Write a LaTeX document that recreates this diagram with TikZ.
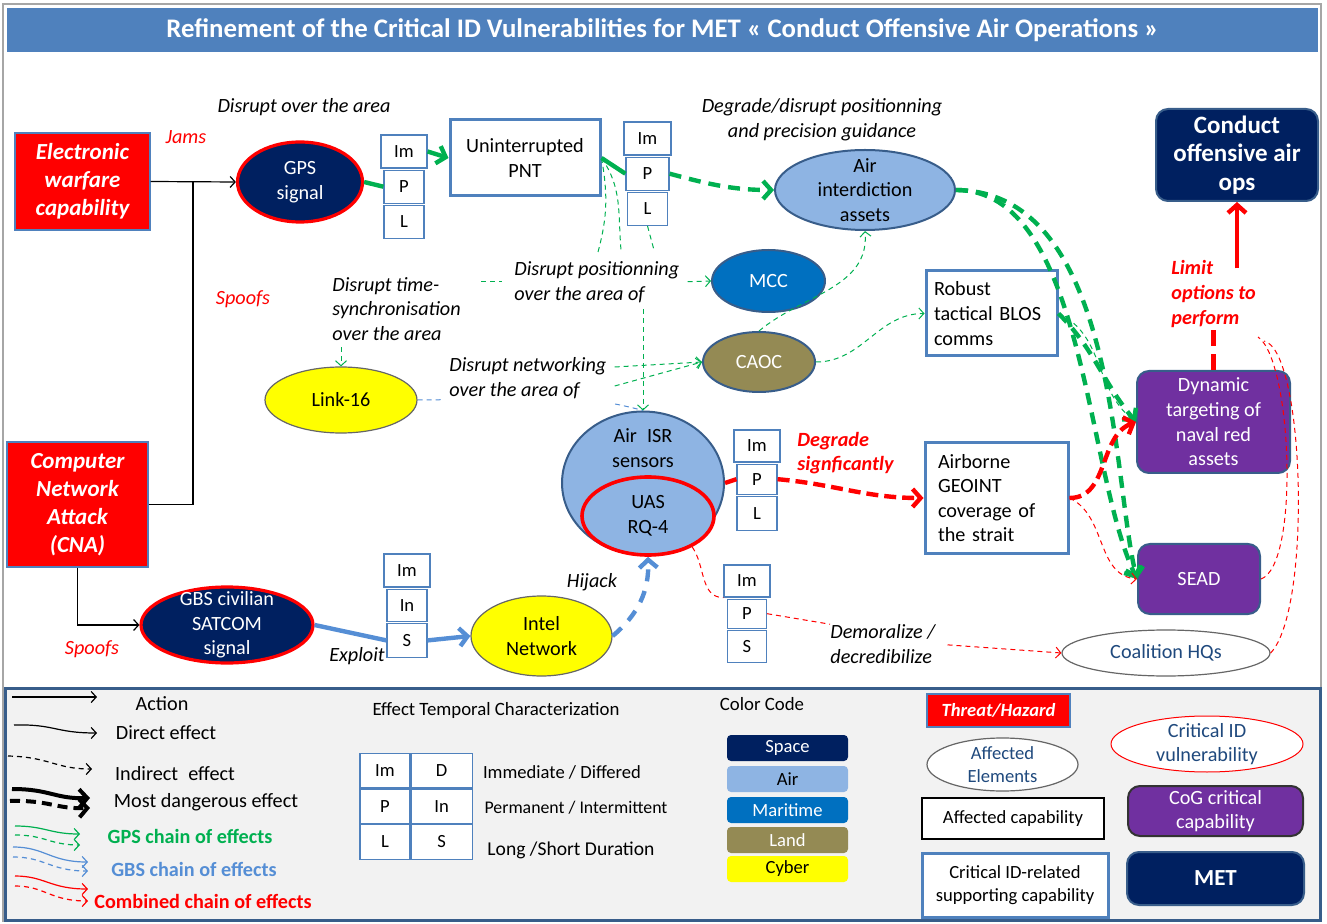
\documentclass[tikz,border=0pt]{standalone}
\usepackage{fontspec}
\setmainfont{Carlito}
\usetikzlibrary{shapes.geometric, arrows.meta, positioning}

\definecolor{navy}{HTML}{002060}
\definecolor{airblue}{HTML}{8EB4E3}
\definecolor{maritime}{HTML}{0070C0}
\definecolor{land}{HTML}{948A54}
\definecolor{cogpurple}{HTML}{7030A0}
\definecolor{boxblue}{HTML}{4F81BD}
\definecolor{edgeblue}{HTML}{385D8A}
\definecolor{gpsgreen}{HTML}{00B050}
\definecolor{gbsblue}{HTML}{558ED5}
\definecolor{threatred}{HTML}{FF0000}
\definecolor{legendbg}{HTML}{F2F2F2}
\definecolor{hqtext}{HTML}{1F497D}
\definecolor{cyber}{HTML}{FFFF00}

\tikzset{
	base/.style={font=\fontsize{10.1}{12.3}\selectfont, align=center, inner sep=0pt},
	lgsmall/.style={font=\fontsize{9.3}{11.5}\selectfont},
	threat/.style={base, rectangle, fill=threatred, draw=boxblue, line width=0.6pt,
		text=white, font=\fontsize{11.5}{14}\selectfont\bfseries\itshape},
	vuln/.style={base, ellipse, fill=navy, draw=red, line width=1.6pt, text=white},
	element/.style={base, ellipse, draw=edgeblue, line width=1pt},
	supcap/.style={base, rectangle, draw=boxblue, line width=1.5pt, fill=white},
	cogcap/.style={base, rectangle, rounded corners=6pt, fill=cogpurple,
		draw=edgeblue, line width=1pt, text=white},
	met/.style={base, rectangle, rounded corners=6pt, fill=navy, draw=edgeblue,
		line width=1pt, text=white, font=\fontsize{12.5}{14.2}\selectfont\bfseries},
	tcell/.style={base, lgsmall, rectangle, draw=boxblue, fill=white, line width=0.6pt},
	tbox/.style={tcell, minimum width=20pt, minimum height=16.5pt},
	lbl/.style={base, font=\fontsize{10.1}{12.3}\selectfont\itshape},
	redlbl/.style={lbl, text=red},
	alertlbl/.style={base, text=red, font=\fontsize{10.1}{12.3}\selectfont\bfseries\itshape},
	swatch/.style={base, lgsmall, rounded corners=2pt, minimum width=60.5pt, minimum height=13pt},
	arr/.style={-{Straight Barb[length=2.5pt,width=5.5pt]}},
	bigarr/.style={-{Straight Barb[length=4pt,width=9pt]}},
	actionline/.style={black, line width=0.6pt, arr},
	gpsthick/.style={gpsgreen, line width=2.2pt},
	gpsdash/.style={gpsthick, dash pattern=on 6pt off 4pt},
	gpsthin/.style={gpsgreen, line width=0.5pt, dash pattern=on 2.5pt off 2pt},
	gbsthick/.style={gbsblue, line width=2.2pt},
	gbsdash/.style={gbsthick, dash pattern=on 6pt off 5pt},
	gbsthin/.style={gbsblue, line width=0.5pt, dash pattern=on 2.5pt off 2pt},
	redthick/.style={red, line width=2.2pt},
	reddash/.style={redthick, dash pattern=on 6pt off 3pt},
	redthin/.style={red, line width=0.5pt, dash pattern=on 2.5pt off 2pt}
}

\begin{document}
\begin{tikzpicture}[x=0.5pt, y=-0.5pt]
	\useasboundingbox (0,0) rectangle (1327,924);

	% frame, title and legend panel
	\draw[gray!70, line width=1pt] (3,4) rectangle (1321,921);
	\node[base, fill=boxblue, text=white, minimum width=655.5pt, minimum height=22pt,
		font=\fontsize{13.4}{15}\selectfont\bfseries] (title) at (662.5,30)
		{Refinement of the Critical ID Vulnerabilities for MET « Conduct Offensive Air Operations »};
	\draw[fill=legendbg, draw=edgeblue, line width=1.5pt] (5,688) rectangle (1320,920);

	% threats and critical vulnerabilities
	\node[threat, minimum width=67.5pt, minimum height=48.5pt] (ew) at (82.5,181.5)
		{Electronic\\warfare\\capability};
	\node[threat, minimum width=70.5pt, minimum height=62.5pt] (cna) at (77.5,504.5)
		{Computer\\Network\\Attack\\(CNA)};
	\node[vuln, minimum width=62.5pt, minimum height=40pt] (gps) at (300,182) {GPS\\signal};
	\node[vuln, minimum width=86pt, minimum height=38pt, inner ysep=-4.5pt] (gbs) at (227,625)
		{GBS civilian\\SATCOM\\signal};

	% temporal boxes
	\node[tbox, minimum width=23pt] (gpsIm) at (404,151.5) {Im};
	\node[tbox, below=0.5pt of gpsIm] (gpsP) {P};
	\node[tbox, below=0.5pt of gpsP] (gpsL) {L};
	\node[tbox, minimum width=23.5pt] (pntIm) at (647.5,138.5) {Im};
	\node[tbox, minimum width=21.5pt, below=0.5pt of pntIm] (pntP) {P};
	\node[tbox, below=0.5pt of pntP] (pntL) {L};
	\node[tbox, minimum width=23pt, minimum height=16pt] (isrIm) at (757,446) {Im};
	\node[tbox, minimum height=15pt, below=0.5pt of isrIm] (isrP) {P};
	\node[tbox, minimum height=17pt, below=0.5pt of isrP] (isrL) {L};
	\node[tbox, minimum width=23pt, minimum height=16pt] (hqIm) at (747,581) {Im};
	\node[tbox, minimum width=19.5pt, minimum height=14.5pt, below=0.5pt of hqIm] (hqP) {P};
	\node[tbox, minimum width=19.5pt, minimum height=16pt, below=0.5pt of hqP] (hqS) {S};
	\node[tbox, minimum width=23pt] (gbsIm) at (407,570.5) {Im};
	\node[tbox, minimum height=16pt, below=0.5pt of gbsIm] (gbsIn) {In};
	\node[tbox, minimum height=17pt, below=0.5pt of gbsIn] (gbsS) {S};

	% affected elements and capabilities
	\node[supcap, minimum width=75pt, minimum height=38pt] (pnt) at (525,158) {Uninterrupted\\PNT};
	\node[element, fill=airblue, minimum width=90pt, minimum height=40pt, inner ysep=-4.5pt]
		(airint) at (865,190) {Air\\interdiction\\assets};
	\node[element, fill=maritime, text=white, minimum width=56.5pt, minimum height=31pt]
		(mcc) at (768.5,281) {MCC};
	\node[element, fill=land, text=white, minimum width=56pt, minimum height=30pt]
		(caoc) at (759,362) {CAOC};
	\node[supcap, align=left, text width=57.5pt, minimum width=65.5pt, minimum height=42.5pt]
		(robust) at (991.5,313.5) {Robust\\tactical BLOS\\comms};
	\node[element, fill=cyber, draw=black!60, line width=0.6pt, minimum width=76pt, minimum height=33pt]
		(link) at (341,400) {Link-16};
	\node[element, fill=airblue, minimum width=81pt, minimum height=71.5pt] (isr) at (643,483) {};
	\node[base] (isrtxt) at (643,448) {Air\hspace{0.5em}ISR\\sensors};
	\node[element, fill=airblue, draw=red, line width=1.8pt, minimum width=66pt, minimum height=39pt]
		(uas) at (648,516) {UAS\\RQ-4};
	\node[supcap, align=left, text width=58.5pt, minimum width=71.5pt, minimum height=55pt]
		(geoint) at (996.5,498) {Airborne\\GEOINT\\coverage of\\the strait};
	\node[cogcap, minimum width=76.5pt, minimum height=51pt] (dyn) at (1213.5,422)
		{Dynamic\\targeting of\\naval red\\assets};
	\node[cogcap, minimum width=61pt, minimum height=35pt] (sead) at (1199,579) {SEAD};
	\node[met, minimum width=81pt, minimum height=46pt] (cond) at (1237,155)
		{Conduct\\offensive air\\ops};
	\node[base, ellipse, draw=black!60, line width=0.6pt, fill=white, text=hqtext,
		minimum width=104pt, minimum height=23pt] (coal) at (1166,653) {Coalition HQs};
	\node[element, fill=cyber, draw=black!60, line width=0.6pt, minimum width=70.5pt, minimum height=40pt]
		(intel) at (541.5,636) {Intel\\Network};

	% effect labels
	\node[lbl] (overlbl) at (304,107) {Disrupt over the area};
	\node[redlbl] (jams) at (186,137) {Jams};
	\node[redlbl] (spoofew) at (243,299) {Spoofs};
	\node[lbl] (guidlbl) at (822,120) {Degrade/disrupt positionning\\and precision guidance};
	\node[lbl, anchor=west, align=left] (tsync) at (332,309) {Disrupt time-\\synchronisation\\over the area};
	\node[lbl, anchor=west, align=left] (dpos) at (514,282) {Disrupt positionning\\over the area of};
	\node[alertlbl, anchor=west, align=left] (sigdeg) at (797,453) {Degrade\\signficantly};
	\node[alertlbl, anchor=west, align=left] (limit) at (1171,294) {Limit\\options to\\perform};
	\node[lbl, anchor=west, align=left] (demlbl) at (830,644) {Demoralize /\\decredibilize};
	\node[lbl] (hijack) at (592,582) {Hijack};
	\node[lbl] (exploit) at (357,656) {Exploit};
	\node[redlbl] (spoofcna) at (92,649) {Spoofs};

	% Link-16 effect runs behind the networking label
	\draw[gbsthin] (link.east) to[out=0,in=165] (isr.north);
	\node[lbl, anchor=west, align=left, fill=white, inner sep=4pt] (dnet) at (441,378)
		{Disrupt networking\\over the area of};

	% actions
	\coordinate (jn) at (193,182);
	\draw[actionline] (ew.east) -- (gps.west);
	\draw[black, line width=0.6pt] (cna.east) -| (jn);
	\draw[actionline] (cna.south) |- (gbs.west);

	% GPS chain
	\draw[gpsthick] (gps.east) -- (gpsP.west);
	\draw[gpsthick, bigarr] (gpsIm.east) -- (pnt.west);
	\draw[gpsthick] (pnt.east) -- (pntP.west);
	\draw[gpsdash, bigarr] (pntP.east) to[out=-15,in=180] (airint.west);
	\coordinate (fanA) at (598,252);
	\coordinate (fanB) at (621,250);
	\coordinate (fanC) at (654,250);
	\draw[gpsthin] (pnt.east) to[out=-80,in=75] (fanA);
	\draw[gpsthin] (pnt.east) to[out=-55,in=95] (fanB);
	\draw[gpsthin] (pntL.south) -- (fanC);
	\draw[gpsthin, shorten <=10pt, shorten >=6pt] (tsync.east |- dpos.west) -- (dpos.west);
	\draw[gpsthin, arr, shorten <=3pt] (tsync.south -| link.north) -- (link.north);
	\draw[gpsthin, arr, shorten <=4pt] (dpos.east) -- (mcc.west);
	\draw[gpsthin, arr, shorten <=3pt] (dpos.south -| isr.north) -- (isr.north);
	\draw[gpsthin, arr] ([yshift=5.5pt]dnet.east) -- (caoc.west);
	\draw[gpsthin, arr] ([yshift=-4pt]dnet.east) -- (caoc.west);
	\draw[gpsthin, arr] (caoc.north) to[out=40,in=-85] (airint.south);
	\draw[gpsthin, arr] (caoc.east) to[out=0,in=180] (robust.west);
	\draw[gpsdash, bigarr] (airint.east) .. controls (1085,190) and (1085,470) .. (sead.west);
	\draw[gpsdash, bigarr] (airint.east) .. controls (1118,192) and (1112,480) .. (sead.west);
	\draw[gpsthin] (robust.east) to[out=-25,in=145] (dyn.west);
	\draw[gpsdash, bigarr] (robust.east) to[out=-45,in=130] (dyn.west);

	% GBS chain
	\draw[gbsthick] (gbs.east) -- (gbsS.west);
	\draw[gbsthick, bigarr] (gbsS.east) -- (intel.west);
	\draw[gbsdash, bigarr] (intel.east) to[out=40,in=-88] (uas.south);

	% combined chain
	\draw[redthick] (isr.east) -- (isrP.west);
	\draw[reddash, bigarr] (isrP.east) to[out=-5,in=180] (geoint.west);
	\draw[reddash, bigarr] (geoint.east) to[out=0,in=200] (dyn.west);
	\draw[redthin, arr] (geoint.east) to[out=-25,in=175] (sead.west);
	\draw[redthin] (uas.-35) to[out=-55,in=180] (hqIm.south west);
	\draw[redthin] (hqP.east) -- (demlbl.north west);
	\draw[redthin, arr, shorten <=6pt] (demlbl.east) -- (coal.west);
	\coordinate (limA) at (1258,337);
	\coordinate (limB) at (1264,341);
	\draw[redthin] (sead.east) .. controls (1300,565) and (1292,360) .. (limA);
	\draw[redthin] (coal.east) .. controls (1312,610) and (1305,350) .. (limB);
	\draw[redthick, dash pattern=on 8pt off 4pt] (dyn.north) -- (limit.south -| dyn.north);
	\draw[redthick, bigarr, shorten <=-4pt] (limit.north -| cond.south) -- (cond.south);

	% legend: connector types
	\draw[actionline] (12,697) -- (97,697);
	\node[base] (lgact) at (162,704) {Action};
	\draw[black, line width=0.6pt, arr] (14,725) .. controls (55,724) and (55,733) .. (97,733);
	\node[base] (lgdir) at (166,733) {Direct effect};
	\draw[black, line width=0.6pt, dash pattern=on 2.5pt off 2pt, arr]
		(8,756) .. controls (50,757) and (55,769) .. (92,769);
	\node[base] (lgind) at (175,774) {Indirect\hspace{0.5em}effect};
	\draw[black, line width=2pt, bigarr] (12,789) .. controls (50,789) and (55,799) .. (90,798);
	\draw[black, line width=2pt, dash pattern=on 5pt off 3pt, bigarr]
		(10,801) .. controls (50,800) and (55,809) .. (90,808);
	\node[base] (lgdng) at (206,802) {Most dangerous effect};
	\draw[gpsgreen, line width=0.6pt, arr] (15,826) .. controls (45,826) and (50,834) .. (80,834);
	\draw[gpsgreen, line width=0.6pt, dash pattern=on 2.5pt off 2pt, arr]
		(15,835) .. controls (45,835) and (50,845) .. (80,845);
	\node[base, text=gpsgreen, font=\fontsize{10.1}{12}\selectfont\bfseries] (lggps) at (190,836)
		{GPS chain of effects};
	\draw[gbsblue, line width=0.6pt, arr] (13,847) .. controls (45,847) and (50,862) .. (88,862);
	\draw[gbsblue, line width=0.6pt, dash pattern=on 2.5pt off 2pt, arr]
		(13,857) .. controls (45,857) and (50,871) .. (88,871);
	\node[base, text=gbsblue, font=\fontsize{10.1}{12}\selectfont\bfseries] (lggbs) at (194,869)
		{GBS chain of effects};
	\draw[red, line width=0.6pt, arr] (15,876) .. controls (45,876) and (50,889) .. (88,889);
	\draw[red, line width=0.6pt, dash pattern=on 2.5pt off 2pt, arr]
		(15,886) .. controls (45,886) and (50,901) .. (88,901);
	\node[base, text=red, font=\fontsize{10.1}{12}\selectfont\bfseries] (lgcmb) at (203,901)
		{Combined chain of effects};

	% legend: temporal characterization
	\node[base, font=\fontsize{9.4}{11}\selectfont] (lgtemp) at (496,710) {Effect Temporal Characterization};
	\node[tcell, minimum width=25pt, minimum height=17.25pt] (tIm) at (385,770.5) {Im};
	\node[tcell, minimum width=30.5pt, minimum height=17.25pt, right=0pt of tIm] (tD) {D};
	\node[tcell, minimum width=25pt, minimum height=17.25pt, below=0pt of tIm] (tP) {P};
	\node[tcell, minimum width=30.5pt, minimum height=17.25pt, right=0pt of tP] (tIn) {In};
	\node[tcell, minimum width=25pt, minimum height=17.25pt, below=0pt of tP] (tL) {L};
	\node[tcell, minimum width=30.5pt, minimum height=17.25pt, right=0pt of tL] (tS) {S};
	\node[base, lgsmall] (lgimm) at (562,772) {Immediate / Differed};
	\node[base, font=\fontsize{8.9}{11}\selectfont] (lgper) at (576,808) {Permanent / Intermittent};
	\node[base, font=\fontsize{9.8}{11}\selectfont] (lglong) at (571,850) {Long /Short Duration};

	% legend: color code
	\node[base, font=\fontsize{9.4}{11}\selectfont] (lgcol) at (762,704) {Color Code};
	\node[swatch, fill=navy, text=white] (swspace) at (787.5,748) {Space};
	\node[swatch, fill=airblue] (swair) at (787.5,779) {Air};
	\node[swatch, fill=maritime, text=white] (swmar) at (787.5,810) {Maritime};
	\node[swatch, fill=land, text=white] (swland) at (787.5,840) {Land};
	\node[swatch, fill=cyber] (swcyb) at (787.5,869) {Cyber};

	% legend: node types
	\node[threat, font=\fontsize{9.3}{12}\selectfont\bfseries\itshape, minimum width=71.5pt,
		minimum height=16.5pt] (lgthreat) at (998.5,710.5) {Threat/Hazard};
	\node[base, lgsmall, ellipse, draw=black!60, line width=0.6pt, fill=white, text=hqtext, inner ysep=-2pt,
		minimum width=75.5pt, minimum height=26.5pt] (lgelem) at (1002.5,764.5) {Affected\\Elements};
	\node[base, ellipse, draw=red, line width=0.5pt, fill=white, text=hqtext, inner ysep=-2.5pt,
		minimum width=96pt, minimum height=28pt] (lgvuln) at (1207,744) {Critical ID\\vulnerability};
	\node[base, lgsmall, draw=black, line width=0.8pt, fill=white, minimum width=91pt, minimum height=20.5pt]
		(lgcap) at (1013,818.5) {Affected capability};
	\node[cogcap, draw=black!80, minimum width=87.5pt, minimum height=25pt] (lgcog) at (1215.5,811)
		{CoG critical\\capability};
	\node[supcap, lgsmall, minimum width=93pt, minimum height=32pt] (lgsup) at (1015,885)
		{Critical ID-related\\supporting capability};
	\node[met, font=\fontsize{11.5}{14}\selectfont\bfseries, minimum width=88.5pt, minimum height=26.5pt]
		(lgmet) at (1215.5,878.5) {MET};
\end{tikzpicture}
\end{document}
